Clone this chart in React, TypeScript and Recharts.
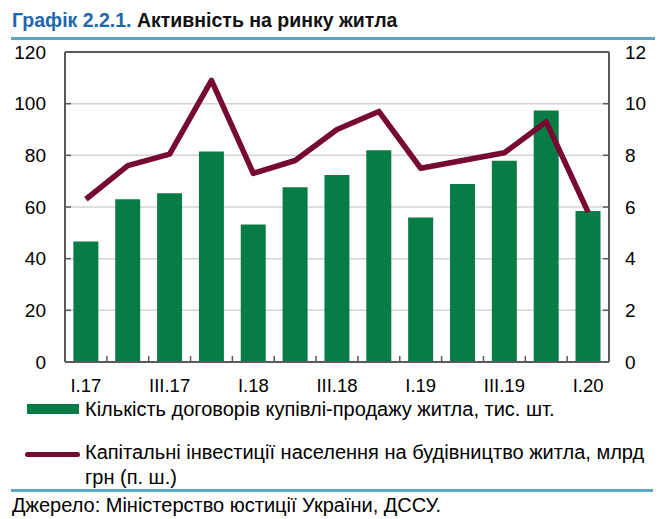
import React from 'react';
import { ComposedChart, Bar, Line, XAxis, YAxis, CartesianGrid, ReferenceLine } from 'recharts';

const categories = ['I.17', 'II.17', 'III.17', 'IV.17', 'I.18', 'II.18', 'III.18', 'IV.18', 'I.19', 'II.19', 'III.19', 'IV.19', 'I.20'];
const contracts = [46.6, 63.0, 65.3, 81.5, 53.2, 67.6, 72.4, 82.0, 55.9, 68.9, 77.9, 97.4, 58.5];
const investments = [6.3, 7.6, 8.05, 10.9, 7.3, 7.8, 9.0, 9.7, 7.5, 7.8, 8.1, 9.3, 5.8];
const leftTicks = [0, 20, 40, 60, 80, 100, 120];
const rightTicks = [0, 2, 4, 6, 8, 10, 12];
const shownLabels = ['I.17', 'III.17', 'I.18', 'III.18', 'I.19', 'III.19', 'I.20'];

const data = categories.map((c, i) => ({ cat: c, contracts: contracts[i], inv: investments[i] }));

const FONT = '"Liberation Sans", Arial, sans-serif';
const GREEN = '#087C47';
const MAROON = '#770A33';
const AXIS = '#5A5A5A';
const RULE = '#5CA6C9';

const PLOT_LEFT = 65;
const PLOT_RIGHT = 609;
const BW = (PLOT_RIGHT - PLOT_LEFT) / categories.length;

const XTick = (props: any) => {
  const { x, y, payload } = props;
  const show = shownLabels.includes(payload.value);
  return (
    <g>
      <line x1={x + BW / 2} x2={x + BW / 2} y1={y} y2={y - 6} stroke={AXIS} strokeWidth={1.5} />
      {show && (
        <text x={x} y={y + 30} textAnchor="middle" fontSize={18.5} fill="#000" fontFamily={FONT}>
          {payload.value}
        </text>
      )}
    </g>
  );
};

export default function App() {
  return (
    <div style={{ position: 'absolute', left: 0, top: 0, width: 667, height: 519, background: '#fff', fontFamily: FONT, overflow: 'hidden' }}>
      <div style={{ position: 'absolute', left: 12, top: 8, fontSize: 19.5, lineHeight: '25px', fontWeight: 'bold', whiteSpace: 'nowrap' }}>
        <span style={{ color: '#1E67AE' }}>Графік 2.2.1.</span>
        <span style={{ color: '#111' }}> Активність на ринку житла</span>
      </div>
      <div style={{ position: 'absolute', left: 11, top: 37, width: 644, height: 2.5, background: RULE }} />

      <div style={{ position: 'absolute', left: 0, top: 0 }}>
        <ComposedChart width={667} height={400} data={data} margin={{ top: 52, right: 0, bottom: 0, left: 0 }} barCategoryGap="20%">
          <CartesianGrid vertical={false} stroke="#D4D4D4" strokeWidth={1.5} yAxisId="left" />
          <XAxis
            dataKey="cat"
            interval={0}
            tick={<XTick />}
            tickLine={false}
            tickSize={0}
            tickMargin={0}
            height={38}
            axisLine={{ stroke: AXIS, strokeWidth: 2 }}
          />
          <YAxis
            yAxisId="left"
            domain={[0, 120]}
            ticks={leftTicks}
            width={65}
            tickSize={-6}
            tickMargin={25}
            tick={{ fontSize: 19, fill: '#000', fontFamily: FONT }}
            tickLine={{ stroke: AXIS, strokeWidth: 1.5 }}
            axisLine={{ stroke: AXIS, strokeWidth: 2 }}
          />
          <YAxis
            yAxisId="right"
            orientation="right"
            domain={[0, 12]}
            ticks={rightTicks}
            width={58}
            tickSize={-6}
            tickMargin={22}
            tick={{ fontSize: 19, fill: '#000', fontFamily: FONT, textAnchor: 'start' }}
            tickLine={{ stroke: AXIS, strokeWidth: 1.5 }}
            axisLine={{ stroke: AXIS, strokeWidth: 2 }}
          />
          <ReferenceLine yAxisId="left" y={120} stroke={AXIS} strokeWidth={2} />
          <Bar yAxisId="left" dataKey="contracts" fill={GREEN} isAnimationActive={false} />
          <Line yAxisId="right" dataKey="inv" stroke={MAROON} strokeWidth={5.5} dot={false} strokeLinejoin="round" isAnimationActive={false} />
        </ComposedChart>
      </div>

      <div style={{ position: 'absolute', left: 27, top: 404, width: 52, height: 10, background: GREEN }} />
      <div style={{ position: 'absolute', left: 85, top: 397, fontSize: 20, color: '#000', whiteSpace: 'nowrap', lineHeight: '25px' }}>
        Кількість договорів купівлі-продажу житла, тис. шт.
      </div>
      <div style={{ position: 'absolute', left: 25, top: 452, width: 55, height: 5, borderRadius: 2.5, background: MAROON }} />
      <div style={{ position: 'absolute', left: 85, top: 440, fontSize: 20, color: '#000', lineHeight: '25px', width: 580, whiteSpace: 'nowrap' }}>
        Капітальні інвестиції населення на будівництво житла, млрд
        <br />
        грн (п. ш.)
      </div>
      <div style={{ position: 'absolute', left: 11, top: 489, width: 642, height: 2.5, background: RULE }} />
      <div style={{ position: 'absolute', left: 12, top: 493, fontSize: 20, color: '#000', whiteSpace: 'nowrap', lineHeight: '25px' }}>
        Джерело: Міністерство юстиції України, ДССУ.
      </div>
    </div>
  );
}
